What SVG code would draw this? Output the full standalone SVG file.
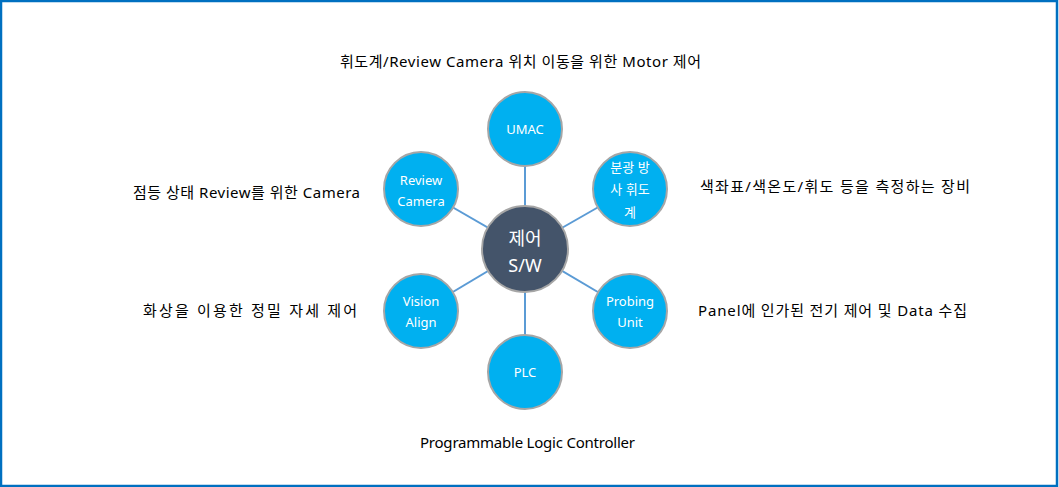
<svg xmlns="http://www.w3.org/2000/svg" width="1059" height="487" viewBox="0 0 1059 487">
<style>
.node{fill:#00B0F0;stroke:#A6A6A6;stroke-width:2}
.hub{fill:#44546A;stroke:#A6A6A6;stroke-width:2}
.nt{font-family:"Noto Sans","Noto Sans CJK KR",sans-serif;font-size:13px;fill:#fff;text-anchor:middle}
.ht{font-family:"Noto Sans","Noto Sans CJK KR",sans-serif;font-size:18px;fill:#fff;text-anchor:middle}
.lb{font-family:"Noto Sans","Noto Sans CJK KR",sans-serif;font-size:15px;fill:#000}
.cn line{stroke:#5B9BD5;stroke-width:2}
</style>
<rect x="1" y="1" width="1056" height="485" fill="#fff" stroke="#0070C0" stroke-width="2.5"/>
<g id="connectors" class="cn">
<line x1="525" y1="249" x2="525" y2="129"/>
<line x1="525" y1="249" x2="421" y2="189"/>
<line x1="525" y1="249" x2="630" y2="189"/>
<line x1="525" y1="249" x2="421" y2="311"/>
<line x1="525" y1="249" x2="630" y2="311"/>
<line x1="525" y1="249" x2="525" y2="372"/>
</g>
<g id="umac"><circle class="node" cx="525" cy="129" r="37"/><text class="nt" x="525" y="134">UMAC</text></g>
<g id="review-camera"><circle class="node" cx="421" cy="189" r="37"/><text class="nt" x="421" y="185">Review</text><text class="nt" x="421" y="206">Camera</text></g>
<g id="spectro"><circle class="node" cx="630" cy="189" r="37"/><text class="nt" x="630" y="172">분광 방</text><text class="nt" x="630" y="194">사 휘도</text><text class="nt" x="630" y="217">계</text></g>
<g id="vision-align"><circle class="node" cx="421" cy="311" r="37"/><text class="nt" x="421" y="306">Vision</text><text class="nt" x="421" y="327">Align</text></g>
<g id="probing-unit"><circle class="node" cx="630" cy="311" r="37"/><text class="nt" x="630" y="306">Probing</text><text class="nt" x="630" y="327">Unit</text></g>
<g id="plc"><circle class="node" cx="525" cy="372" r="37"/><text class="nt" x="525" y="377">PLC</text></g>
<g id="hub"><circle class="hub" cx="525" cy="249" r="43"/><text class="ht" x="525" y="245">제어</text><text class="ht" x="525" y="272">S/W</text></g>
<g id="labels">
<text class="lb" x="340" y="67" textLength="361" lengthAdjust="spacing">휘도계/Review Camera 위치 이동을 위한 Motor 제어</text>
<text class="lb" x="133" y="198" textLength="227" lengthAdjust="spacing">점등 상태 Review를 위한 Camera</text>
<text class="lb" x="700" y="192" textLength="270" lengthAdjust="spacing">색좌표/색온도/휘도 등을 측정하는 장비</text>
<text class="lb" x="143" y="316" textLength="214" lengthAdjust="spacing">화상을 이용한 정밀 자세 제어</text>
<text class="lb" x="698" y="316" textLength="269" lengthAdjust="spacing">Panel에 인가된 전기 제어 및 Data 수집</text>
<text class="lb" x="420" y="448" textLength="215" lengthAdjust="spacing">Programmable Logic Controller</text>
</g>
</svg>
